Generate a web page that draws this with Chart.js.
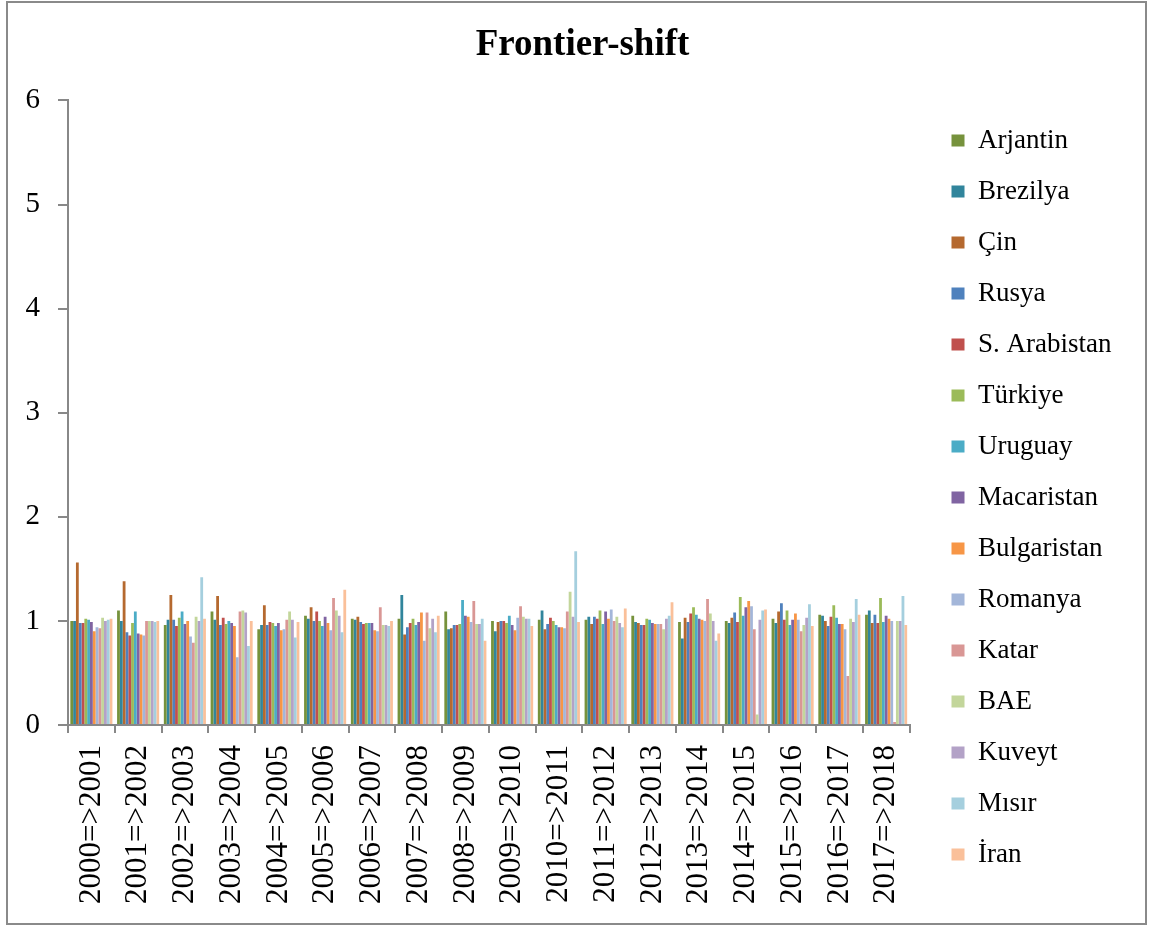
<!DOCTYPE html>
<html>
<head>
<meta charset="utf-8">
<script src="https://cdn.jsdelivr.net/npm/chart.js@4.4.1/dist/chart.umd.min.js"></script>
<style>
html,body{margin:0;padding:0;background:#fff;}
#wrap{position:relative;width:1153px;height:926px;}
#frame{position:absolute;left:6px;top:1px;width:1137px;height:920px;border:2px solid #8a8a8a;pointer-events:none;}
canvas{position:absolute;left:0;top:0;}
</style>
</head>
<body>
<div id="wrap"><canvas id="c" width="1153" height="926"></canvas><div id="frame"></div></div>
<script>
const categories = ["2000=>2001","2001=>2002","2002=>2003","2003=>2004","2004=>2005","2005=>2006","2006=>2007","2007=>2008","2008=>2009","2009=>2010","2010=>2011","2011=>2012","2012=>2013","2013=>2014","2014=>2015","2015=>2016","2016=>2017","2017=>2018"];
const seriesNames = ["Arjantin","Brezilya","Çin","Rusya","S. Arabistan","Türkiye","Uruguay","Macaristan","Bulgaristan","Romanya","Katar","BAE","Kuveyt","Mısır","İran"];
const yTicks = [0,1,2,3,4,5,6];

const arjantin    = [1.00,1.10,0.96,1.09,0.92,1.05,1.02,1.02,1.09,1.00,1.01,1.01,1.05,0.99,1.00,1.02,1.06,1.06];
const brezilya    = [1.00,1.00,1.01,1.01,0.96,1.02,1.01,1.25,0.92,0.90,1.10,1.04,0.99,0.83,0.98,0.98,1.05,1.10];
const cin         = [1.56,1.38,1.25,1.24,1.15,1.13,1.04,0.87,0.93,0.99,0.92,0.97,0.98,1.03,1.03,1.09,1.00,0.98];
const rusya       = [0.98,0.89,1.01,0.96,0.96,1.00,0.99,0.94,0.96,1.00,0.97,1.04,0.96,0.99,1.08,1.17,0.95,1.06];
const sArabistan  = [0.98,0.86,0.95,1.03,0.99,1.09,0.97,0.98,0.96,1.00,1.03,1.02,0.96,1.07,0.99,1.01,1.04,0.98];
const turkiye     = [1.02,0.98,1.03,0.97,0.98,1.00,0.98,1.02,0.97,0.98,1.00,1.10,1.02,1.13,1.23,1.10,1.15,1.22];
const uruguay     = [1.01,1.09,1.09,1.00,0.95,0.95,0.98,0.96,1.20,1.05,0.96,0.97,1.01,1.06,1.05,0.96,1.03,0.99];
const macaristan  = [0.99,0.88,0.97,0.98,0.98,1.04,0.98,0.99,1.05,0.96,0.94,1.09,0.98,1.02,1.13,1.01,0.97,1.05];
const bulgaristan = [0.90,0.87,1.00,0.95,0.91,0.98,0.91,1.08,1.04,0.91,0.94,1.02,0.97,1.01,1.19,1.07,0.97,1.02];
const romanya     = [0.94,0.86,0.85,0.65,0.92,0.91,0.90,0.81,0.99,1.03,0.93,1.11,0.97,1.00,1.14,1.01,0.92,1.00];
const katar       = [0.93,1.00,0.79,1.09,1.01,1.22,1.13,1.08,1.19,1.14,1.09,1.00,0.97,1.21,0.92,0.90,0.47,0.03];
const bae         = [1.03,1.00,1.04,1.10,1.09,1.10,0.96,0.93,0.97,1.04,1.28,1.04,0.92,1.07,0.10,0.96,1.02,1.00];
const kuveyt      = [1.00,1.00,1.00,1.08,1.01,1.05,0.96,1.02,0.97,1.02,1.04,0.98,1.02,1.00,1.01,1.03,0.99,1.00];
const misir       = [1.01,0.99,1.42,0.76,0.84,0.89,0.95,0.89,1.02,1.02,1.67,0.94,1.05,0.81,1.10,1.16,1.21,1.24];
const iran        = [1.02,1.00,1.02,1.00,0.99,1.30,1.00,1.05,0.81,0.95,0.99,1.12,1.18,0.88,1.11,0.95,1.06,0.96];

const seriesValues = [arjantin,brezilya,cin,rusya,sArabistan,turkiye,uruguay,macaristan,bulgaristan,romanya,katar,bae,kuveyt,misir,iran];
const seriesColors = ["#76923C","#31859C","#B5692F","#4F81BD","#C0504D","#9BBB59","#4BACC6","#8064A2","#F79646","#A3B6D9","#D99795","#C3D69B","#B3A2C7","#A5CFDE","#FAC09A"];

const FONT = "'Liberation Serif','Times New Roman',serif";
const AXIS = "#888888";

// centre the title over the whole figure rather than over the space left of the right padding
const titleCentre = {
  id: 'titleCentre',
  afterLayout(chart) {
    const t = chart.titleBlock;
    if (!t) return;
    const dx = (chart.width / 2 + 6) - (t.left + t.right) / 2;
    t.left += dx; t.right += dx;
  }
};

new Chart(document.getElementById('c'), {
  type: 'bar',
  data: {
    labels: categories,
    datasets: seriesNames.map((n, i) => ({
      label: n,
      data: seriesValues[i],
      backgroundColor: seriesColors[i],
      borderWidth: 0,
      categoryPercentage: 0.9,
      barPercentage: 1.0
    }))
  },
  plugins: [titleCentre],
  options: {
    responsive: false,
    animation: false,
    devicePixelRatio: 1,
    layout: { padding: { left: 0, right: 40, top: 0, bottom: 0 } },
    plugins: {
      title: {
        display: true,
        text: 'Frontier-shift',
        color: '#000',
        font: { family: FONT, size: 37, weight: 'bold' },
        padding: { top: 23, bottom: 33 }
      },
      legend: {
        position: 'right',
        align: 'center',
        title: { display: true, text: '', font: { family: FONT, size: 10 }, padding: { top: 57, bottom: 0 } },
        labels: {
          color: '#000',
          boxWidth: 13,
          boxHeight: 12,
          padding: 24,
          font: { family: FONT, size: 27 }
        }
      },
      tooltip: { enabled: false }
    },
    scales: {
      x: {
        grid: { display: true, drawOnChartArea: false, drawTicks: true, tickLength: 8, color: AXIS, lineWidth: 2, offset: true },
        border: { display: true, color: AXIS, width: 2 },
        ticks: { color: '#000', font: { family: FONT, size: 31 }, minRotation: 90, maxRotation: 90, padding: 12, autoSkip: false },
        afterFit: (s) => { s.height = 201; }
      },
      y: {
        min: 0, max: 6,
        afterBuildTicks: (s) => { s.ticks = yTicks.map(v => ({ value: v })); },
        grid: { display: true, drawOnChartArea: false, drawTicks: true, tickLength: 10, color: AXIS, lineWidth: 2 },
        border: { display: true, color: AXIS, width: 2 },
        ticks: { color: '#000', font: { family: FONT, size: 29 }, padding: 18 },
        afterFit: (s) => { s.width = 68; }
      },
      gap: {
        position: 'right',
        display: true,
        grid: { display: false },
        border: { display: false },
        ticks: { display: false },
        afterFit: (s) => { s.width = 18; }
      }
    }
  }
});
</script>
</body>
</html>
